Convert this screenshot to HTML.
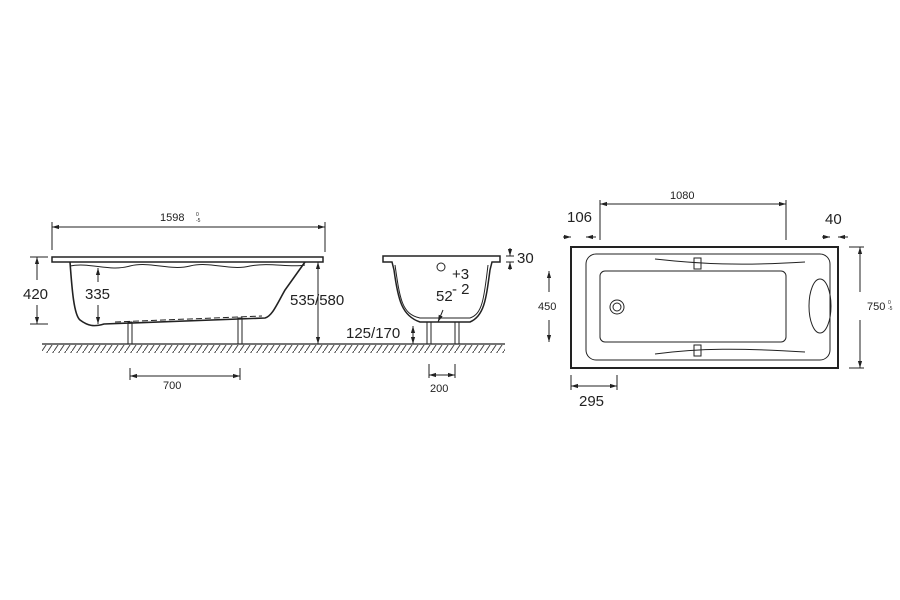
<!DOCTYPE html>
<html><head><style>body{margin:0;background:#fff}svg{display:block}text{font-family:"Liberation Sans",sans-serif;fill:#222}</style></head><body>
<svg width="900" height="600" viewBox="0 0 900 600" xmlns="http://www.w3.org/2000/svg">
<defs>
<marker id="a" viewBox="0 0 10 10" refX="10" refY="5" markerWidth="7" markerHeight="7" orient="auto-start-reverse"><path d="M0,2L10,5L0,8z" fill="#222"/></marker>
<pattern id="h" width="6" height="9" patternUnits="userSpaceOnUse"><line x1="6" y1="0" x2="0" y2="9" stroke="#444" stroke-width="1"/></pattern>
</defs>
<g stroke="#222" fill="none" stroke-width="1">
<!-- ground -->
<line x1="42" y1="344" x2="505" y2="344" stroke-width="1.3"/>
<rect x="42" y="345" width="463" height="8" fill="url(#h)" stroke="none"/>
<!-- side view -->
<rect x="52" y="257" width="271" height="5" stroke-width="1.5"/>
<path d="M70,262 C72,290 74,315 80,320 C88,326 94,327 104,324 L265,318 C272,316 276,306 285,290 L305,262" stroke-width="1.6"/>
<path d="M70,266 C90,262 110,272 130,266 C150,261 170,271 190,266 C210,261 230,271 250,266 C270,262 290,268 305,265" stroke-width="1"/>
<path d="M115,322 L262,316" stroke-dasharray="6 3"/>
<rect x="128" y="322" width="4" height="22"/><rect x="238" y="318" width="4" height="26"/>
<line x1="52" y1="227" x2="325" y2="227" marker-start="url(#a)" marker-end="url(#a)"/>
<line x1="52" y1="222" x2="52" y2="250"/><line x1="325" y1="222" x2="325" y2="252"/>
<line x1="30" y1="257" x2="48" y2="257"/><line x1="30" y1="324" x2="48" y2="324"/>
<line x1="37" y1="257" x2="37" y2="280" marker-start="url(#a)"/><line x1="37" y1="305" x2="37" y2="324" marker-end="url(#a)"/>
<line x1="98" y1="268" x2="98" y2="282" marker-start="url(#a)"/><line x1="98" y1="305" x2="98" y2="324" marker-end="url(#a)"/>
<line x1="318" y1="262" x2="318" y2="344" marker-start="url(#a)" marker-end="url(#a)"/>
<line x1="130" y1="368" x2="130" y2="380"/><line x1="240" y1="368" x2="240" y2="380"/>
<line x1="130" y1="376" x2="240" y2="376" marker-start="url(#a)" marker-end="url(#a)"/>
<!-- cross section -->
<path d="M383,256 L500,256 L500,262 L492,262 L490,270 C486,300 484,316 470,322 L420,322 C402,316 398,300 394,270 L392,262 L383,262 Z" stroke-width="1.5"/>
<path d="M395,265 C400,300 402,314 420,318 L470,318 C482,314 484,300 488,265"/>
<circle cx="441" cy="267" r="4"/>
<rect x="427" y="322" width="4" height="22"/><rect x="455" y="322" width="4" height="22"/>
<line x1="443" y1="310" x2="438" y2="322" marker-end="url(#a)"/>
<line x1="413" y1="326" x2="413" y2="344" marker-start="url(#a)" marker-end="url(#a)"/>
<line x1="510" y1="248" x2="510" y2="256" marker-end="url(#a)"/><line x1="510" y1="270" x2="510" y2="262" marker-end="url(#a)"/>
<line x1="506" y1="256" x2="514" y2="256"/><line x1="506" y1="262" x2="514" y2="262"/>
<line x1="429" y1="364" x2="429" y2="378"/><line x1="455" y1="364" x2="455" y2="378"/>
<line x1="429" y1="375" x2="455" y2="375" marker-start="url(#a)" marker-end="url(#a)"/>
<!-- plan view -->
<rect x="571" y="247" width="267" height="121" stroke-width="2"/>
<rect x="586" y="254" width="244" height="106" rx="10"/>
<rect x="600" y="271" width="186" height="71" rx="5"/>
<circle cx="617" cy="307" r="7"/><circle cx="617" cy="307" r="4"/>
<ellipse cx="820" cy="306" rx="11" ry="27"/>
<path d="M655,259 C700,264 740,266 805,262"/><path d="M655,354 C700,348 740,348 805,352"/>
<rect x="694" y="258" width="7" height="11"/><rect x="694" y="345" width="7" height="11"/>
<line x1="600" y1="204" x2="786" y2="204" marker-start="url(#a)" marker-end="url(#a)"/>
<line x1="600" y1="200" x2="600" y2="240"/><line x1="786" y1="200" x2="786" y2="240"/>
<line x1="563" y1="237" x2="571" y2="237" marker-end="url(#a)"/><line x1="586" y1="237" x2="596" y2="237" marker-start="url(#a)"/>
<line x1="822" y1="237" x2="830" y2="237" marker-end="url(#a)"/><line x1="838" y1="237" x2="848" y2="237" marker-start="url(#a)"/>
<line x1="849" y1="247" x2="864" y2="247"/><line x1="849" y1="368" x2="864" y2="368"/>
<line x1="860" y1="247" x2="860" y2="292" marker-start="url(#a)"/><line x1="860" y1="320" x2="860" y2="368" marker-end="url(#a)"/>
<line x1="549" y1="271" x2="549" y2="292" marker-start="url(#a)"/><line x1="549" y1="320" x2="549" y2="342" marker-end="url(#a)"/>
<line x1="571" y1="375" x2="571" y2="390"/><line x1="617" y1="375" x2="617" y2="390"/>
<line x1="571" y1="386" x2="617" y2="386" marker-start="url(#a)" marker-end="url(#a)"/>
</g>
<text x="160" y="221" font-size="11">1598</text><text x="196" y="216" font-size="5">0</text><text x="196" y="222" font-size="5">-5</text>
<text x="23" y="299" font-size="15">420</text>
<text x="85" y="299" font-size="15">335</text>
<text x="290" y="305" font-size="15">535/580</text>
<text x="163" y="389" font-size="11">700</text>
<text x="517" y="263" font-size="15">30</text>
<text x="452" y="279" font-size="15">+3</text>
<text x="452" y="294" font-size="15">- 2</text>
<text x="436" y="301" font-size="15">52</text>
<text x="346" y="338" font-size="15">125/170</text>
<text x="430" y="392" font-size="11">200</text>
<text x="670" y="199" font-size="11">1080</text>
<text x="567" y="222" font-size="15">106</text>
<text x="825" y="224" font-size="15">40</text>
<text x="867" y="310" font-size="11">750</text><text x="888" y="304" font-size="5">0</text><text x="888" y="310" font-size="5">-5</text>
<text x="538" y="310" font-size="11">450</text>
<text x="579" y="406" font-size="15">295</text>
</svg>
</body></html>
